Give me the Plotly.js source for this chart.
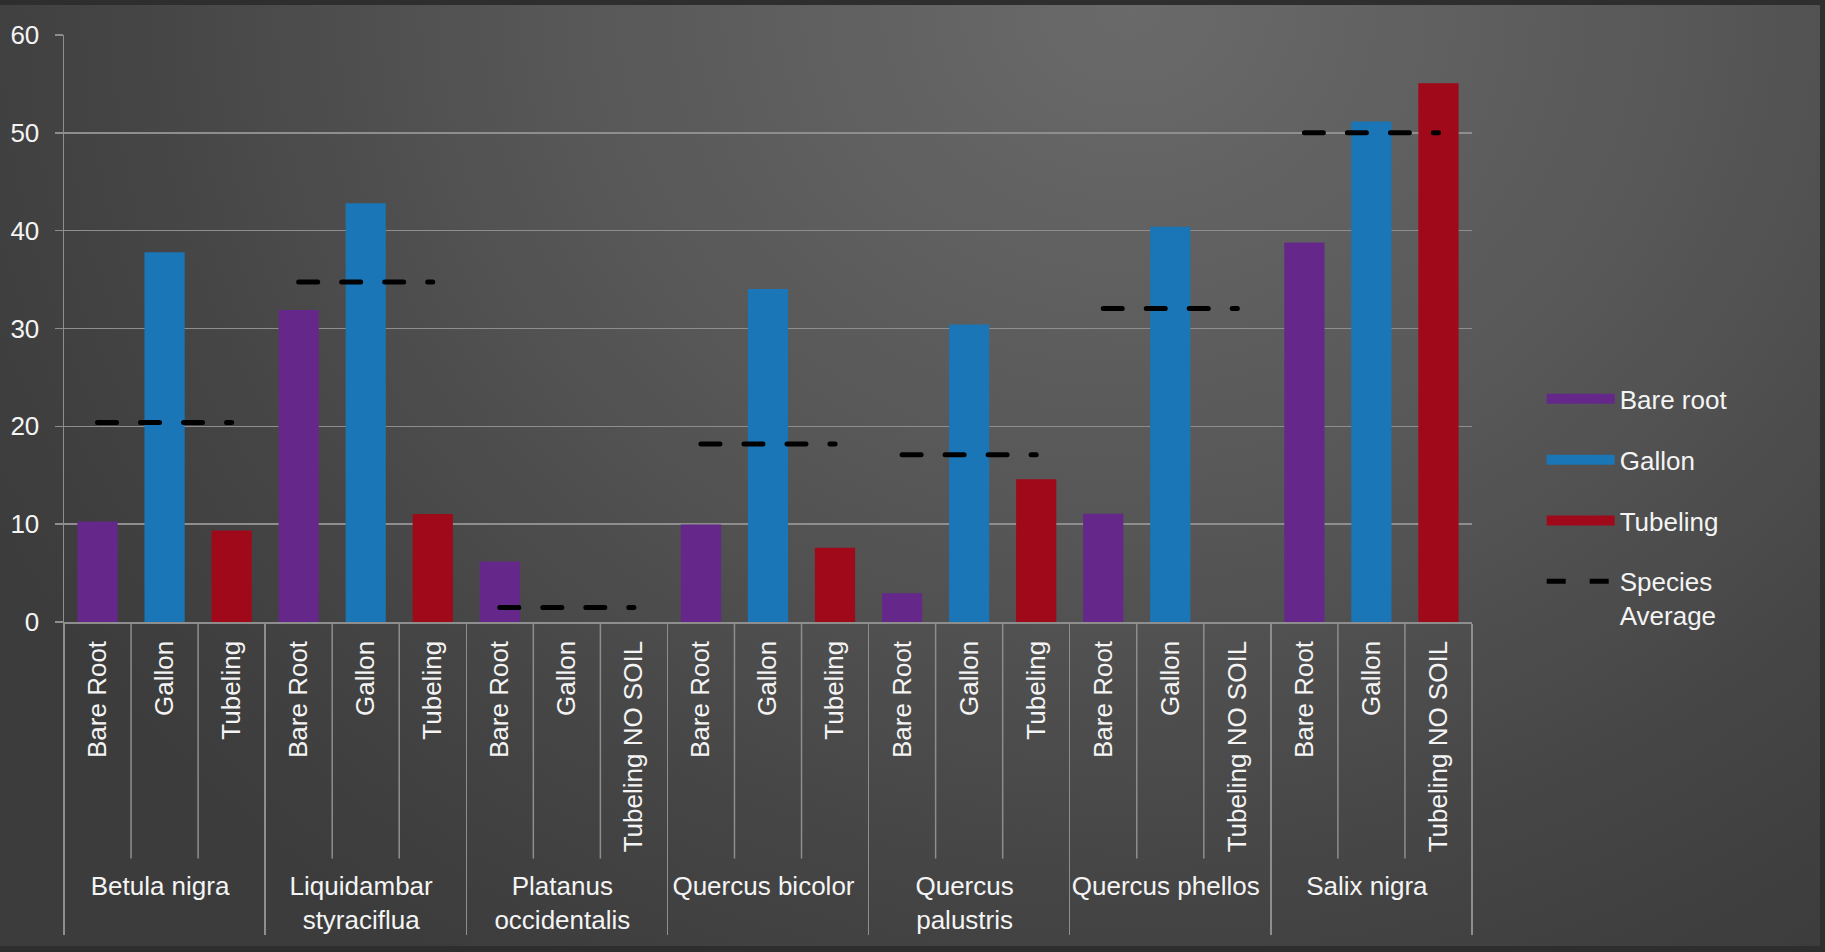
<!DOCTYPE html>
<html>
<head>
<meta charset="utf-8">
<script src="https://cdn.plot.ly/plotly-3.0.1.min.js"></script>
<style>
  html, body { margin: 0; padding: 0; width: 1825px; height: 952px; overflow: hidden; background: #2e2e2e; }
  #wrap {
    position: absolute; left: 0; top: 5px; width: 1820px; height: 941px;
    background: radial-gradient(ellipse 70% 120% at 62% 0%, #6a6a6a 0%, #575757 45%, #444444 80%, #3c3c3c 100%);
  }
  #chart { position: absolute; left: 0; top: 0; width: 1825px; height: 952px; }
  .scatterlayer path.js-line { stroke-linecap: round; }
</style>
</head>
<body>
<div id="wrap"></div>
<div id="chart"></div>
<script>
// ---- data ----
const species = ["Betula nigra", "Liquidambar<br>styraciflua", "Platanus<br>occidentalis",
                 "Quercus bicolor", "Quercus<br>palustris", "Quercus phellos", "Salix nigra"];
const bareRootLabel = "Bare Root";
const gallonLabel = "Gallon";
const tubelingLabels = ["Tubeling", "Tubeling", "Tubeling NO SOIL", "Tubeling", "Tubeling",
                        "Tubeling NO SOIL", "Tubeling NO SOIL"];
const bareRoot = [10.26, 31.9, 6.19, 9.97, 2.93, 11.07, 38.8];
const gallon   = [37.8, 42.8, 0, 34.04, 30.4, 40.4, 51.17];
const tubeling = [9.36, 11.04, 0, 7.59, 14.58, 0, 55.07];
const speciesAvg = [20.4, 34.75, 1.48, 18.2, 17.1, 32.05, 50.0];
const legendNames = ["Bare root", "Gallon", "Tubeling", "Species<br>Average"];
const yTicks = [0, 10, 20, 30, 40, 50, 60];

// ---- styles ----
const colors = { bare: "#65288a", gallon: "#1a76b6", tube: "#a00919" };
const txt = "#f4f4f4";
const gridc = "#8e8e8e";
const fontFam = "Liberation Sans, Arial, sans-serif";

const traces = [];
traces.push({
  type: "bar", x: [species, species.map(() => bareRootLabel)], y: bareRoot,
  marker: { color: colors.bare }, showlegend: false, hoverinfo: "x+y"
});
traces.push({
  type: "bar", x: [species, species.map(() => gallonLabel)], y: gallon,
  marker: { color: colors.gallon }, showlegend: false, hoverinfo: "x+y"
});
traces.push({
  type: "bar", x: [species, tubelingLabels], y: tubeling,
  marker: { color: colors.tube }, showlegend: false, hoverinfo: "x+y"
});
species.forEach((sp, i) => {
  traces.push({
    type: "scatter", mode: "lines",
    x: [[sp, sp], [bareRootLabel, tubelingLabels[i]]],
    y: [speciesAvg[i], speciesAvg[i]],
    line: { color: "#000000", width: 5, dash: "19px,24px" },
    name: legendNames[3], legendgroup: "avg", showlegend: i === 0, legendrank: 10,
    cliponaxis: false
  });
});
// legend-only entries (wide swatches like the reference)
[[legendNames[0], colors.bare], [legendNames[1], colors.gallon], [legendNames[2], colors.tube]].forEach((p, k) => {
  traces.push({
    type: "scatter", mode: "lines", x: [[species[0]], [bareRootLabel]], y: [null],
    line: { color: p[1], width: 14 }, name: p[0], legendgroup: "g" + k, legendrank: k + 1
  });
});

// short dividers between the types inside each species group
const shapes = [];
species.forEach((sp, g) => {
  [0.5, 1.5].forEach(off => {
    const xb = g * 3 + off;
    shapes.push({ type: "line", xref: "x", yref: "paper", x0: xb, x1: xb, y0: 0, y1: -0.403,
                  line: { color: gridc, width: 1.5 }, layer: "below" });
  });
});

const layout = {
  width: 1825, height: 952,
  paper_bgcolor: "rgba(0,0,0,0)", plot_bgcolor: "rgba(0,0,0,0)",
  margin: { l: 64, r: 353, t: 35, b: 330 },
  barmode: "overlay", bargap: 0.4,
  font: { family: fontFam, size: 26, color: txt },
  xaxis: {
    type: "multicategory", tickangle: -90, showgrid: false,
    showline: true, linecolor: gridc, linewidth: 1.5,
    showdividers: true, dividercolor: gridc, dividerwidth: 1.5,
    tickfont: { family: fontFam, size: 26, color: txt },
    ticklabelstandoff: 7
  },
  yaxis: {
    range: [0, 60], tickvals: yTicks, showgrid: true, gridcolor: gridc, gridwidth: 1.5,
    showline: true, linecolor: gridc, linewidth: 1.5, zeroline: false,
    ticks: "outside", ticklen: 8, tickcolor: gridc, tickwidth: 1.5,
    tickfont: { family: fontFam, size: 26, color: txt }, ticklabelstandoff: 10
  },
  legend: {
    x: 1.0495, xanchor: "left", y: 0.42, yanchor: "top",
    font: { family: fontFam, size: 26, color: txt },
    bgcolor: "rgba(0,0,0,0)", itemwidth: 68, tracegroupgap: 24, valign: "top",
    traceorder: "grouped"
  },
  shapes: shapes,
  showlegend: true
};

Plotly.newPlot("chart", traces, layout, { displayModeBar: false, staticPlot: true });
</script>
</body>
</html>
